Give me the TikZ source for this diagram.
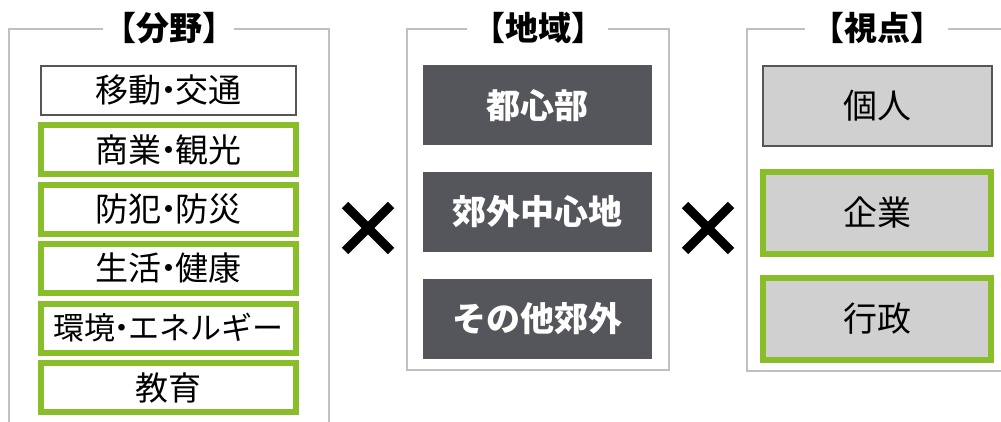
\documentclass[tikz,border=0pt]{standalone}
\usepackage{fontspec}
\setmainfont{Noto Sans CJK JP}
\definecolor{framegray}{RGB}{192,192,192}
\definecolor{greenb}{RGB}{138,189,42}
\definecolor{darkbox}{RGB}{84,86,91}
\definecolor{lightfill}{RGB}{208,208,208}
\definecolor{edgegray}{RGB}{85,85,90}
\newcommand{\nd}{\hbox to 0.42em{\hss ・\hss}}
\begin{document}
\begin{tikzpicture}[x=1pt,y=-1pt,
  frameline/.style={draw=framegray,line width=2.5pt},
  titletxt/.style={font=\fontsize{33}{33}\selectfont\bfseries,inner sep=0pt},
  plainbox/.style={draw=edgegray,line width=2pt,fill=white,minimum width=255pt,minimum height=49pt,inner sep=0pt,font=\fontsize{33}{33}\selectfont},
  greenbox/.style={draw=greenb,line width=6pt,fill=white,minimum width=255pt,minimum height=49pt,inner sep=0pt,font=\fontsize{33}{33}\selectfont},
  darkbx/.style={fill=darkbox,text=white,minimum width=229pt,minimum height=80pt,inner sep=0pt,font=\fontsize{34}{34}\selectfont\bfseries},
  graybox/.style={draw=edgegray,line width=2pt,fill=lightfill,minimum width=229pt,minimum height=80pt,inner sep=0pt,font=\fontsize{34}{34}\selectfont},
  greengray/.style={draw=greenb,line width=6pt,fill=lightfill,minimum width=228pt,minimum height=82pt,inner sep=0pt,font=\fontsize{34}{34}\selectfont},
  crossline/.style={line width=9pt,black}
]
\useasboundingbox (0,0) rectangle (1001,422);
% frames
\draw[frameline] (103,29) -- (9,29) -- (9,424);
\draw[frameline] (234,29) -- (329,29) -- (329,424);
\draw[frameline] (467,29) -- (407,29) -- (407,370) -- (669,370) -- (669,29) -- (608,29);
\draw[frameline] (805,29) -- (747,29) -- (747,371) -- (1003,371);
\draw[frameline] (948,29) -- (1003,29);
% titles
\node[titletxt] (t1) at (169,28) {【分野】};
\node[titletxt] (t2) at (538,28) {【地域】};
\node[titletxt] (t3) at (877,28) {【視点】};
% left column
\node[plainbox] (a1) at (168.5,90.5) {移動\nd 交通};
\node[greenbox] (a2) at (168.5,150) {商業\nd 観光};
\node[greenbox] (a3) at (168.5,209.5) {防犯\nd 防災};
\node[greenbox] (a4) at (168.5,268.5) {生活\nd 健康};
\node[greenbox,font=\fontsize{31}{31}\selectfont] (a5) at (168.5,328) {環境\nd エネルギー};
\node[greenbox] (a6) at (168.5,387.5) {教育};
% middle column
\node[darkbx] (b1) at (537.5,105.5) {都心部};
\node[darkbx] (b2) at (537.5,212) {郊外中心地};
\node[darkbx] (b3) at (537.5,319) {その他郊外};
% right column
\node[graybox] (c1) at (877.5,106) {個人};
\node[greengray] (c2) at (877,213) {企業};
\node[greengray] (c3) at (877,319) {行政};
% crosses
\draw[crossline] (345,205) -- (391,251);
\draw[crossline] (345,251) -- (391,205);
\draw[crossline] (685,205) -- (731,251);
\draw[crossline] (685,251) -- (731,205);
\end{tikzpicture}
\end{document}
